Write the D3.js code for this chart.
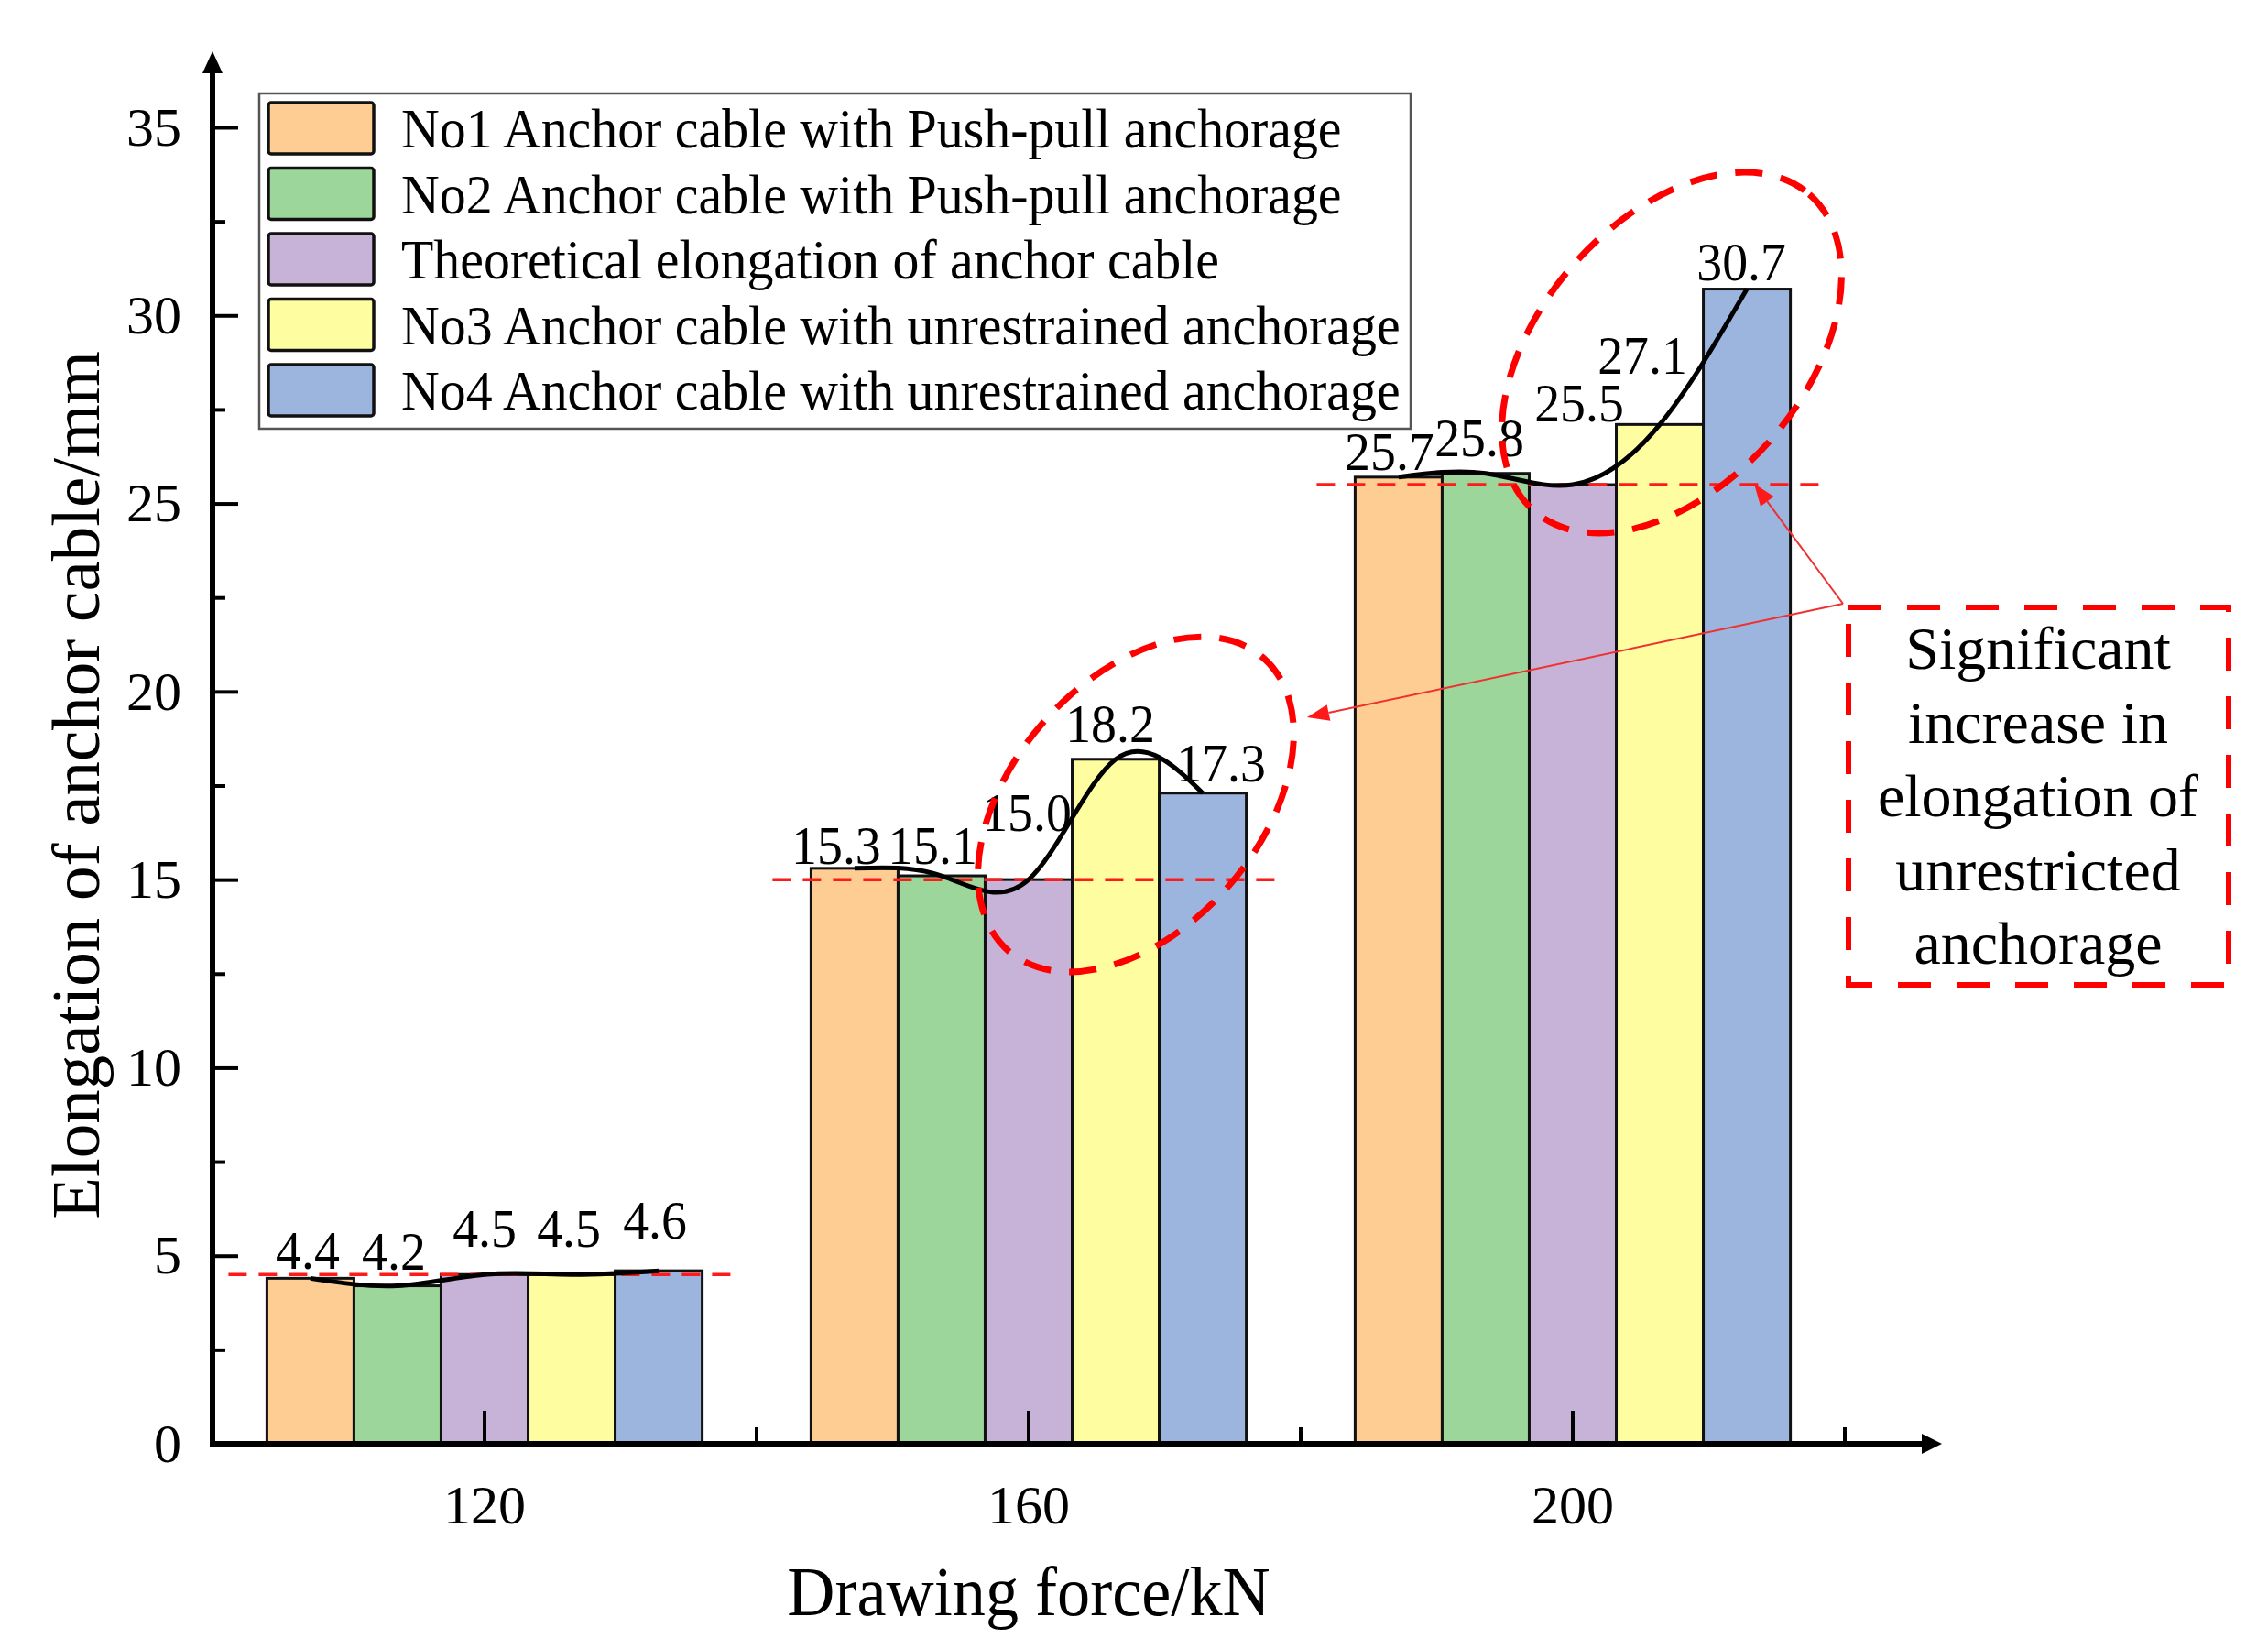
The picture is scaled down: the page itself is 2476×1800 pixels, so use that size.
<!DOCTYPE html>
<html><head><meta charset="utf-8">
<script src="https://cdn.jsdelivr.net/npm/d3@7/dist/d3.min.js"></script>
<style>
body{margin:0;background:#fff}
svg{display:block;background:#fff}
text{font-family:"Liberation Serif","Times New Roman",serif;fill:#000}
</style>
</head><body>
<svg id="chart" width="2476" height="1800"></svg>
<script>
// ---------------- data ----------------
const forces = ["120", "160", "200"];
const seriesNames = [
  "No1 Anchor cable with Push-pull anchorage",
  "No2 Anchor cable with Push-pull anchorage",
  "Theoretical elongation of anchor cable",
  "No3 Anchor cable with unrestrained anchorage",
  "No4 Anchor cable with unrestrained anchorage"
];
const no1Values    = [4.4, 15.3, 25.7];
const no2Values    = [4.2, 15.1, 25.8];
const theoryValues = [4.5, 15.0, 25.5];
const no3Values    = [4.5, 18.2, 27.1];
const no4Values    = [4.6, 17.3, 30.7];
const yTickValues  = [0, 5, 10, 15, 20, 25, 30, 35];
const yMinorValues = [2.5, 7.5, 12.5, 17.5, 22.5, 27.5, 32.5];
const xTitle = "Drawing force/kN";
const yTitle = "Elongation of anchor cable/mm";
const noteLines = ["Significant", "increase in", "elongation of", "unrestricted", "anchorage"];

// ---------------- style / layout ----------------
const colors = ["#FECD93", "#9DD69B", "#C6B3D7", "#FEFD9F", "#9CB5DF"];
// manual label placement (px lift above bar top, px horizontal shift) per group
const labelLift  = [[10, 18, 30, 30, 35], [5, 13, 53, 19, 13], [8, 19, 69, 55, 10]];
const labelShift = [[-3, -4, 0, -3, -4], [-20, -10, -2, -6, 20], [-10, -7, 7, -19, -6]];

const seriesValues = [no1Values, no2Values, theoryValues, no3Values, no4Values];
const keys = d3.range(seriesNames.length);

const svg = d3.select("#chart");
const X0 = 232, Y0 = 1576;

const x = d3.scaleBand().domain(forces).range([X0, 2014]).paddingInner(0).paddingOuter(0);
const inner = d3.scaleBand().domain(keys)
  .range([x.bandwidth() * 0.1, x.bandwidth() * 0.9]).padding(0);
const y = d3.scaleLinear().domain([0, 35]).range([Y0, 139]);

function squeeze(sel, f) {
  sel.each(function () {
    const w = this.getComputedTextLength();
    this.setAttribute("textLength", w * f);
    this.setAttribute("lengthAdjust", "spacingAndGlyphs");
  });
}

// ---------------- bars ----------------
const groups = svg.append("g").selectAll("g").data(forces).join("g")
  .attr("transform", d => `translate(${x(d)},0)`);
groups.selectAll("rect").data((f, gi) => keys.map(k => ({k, v: seriesValues[k][gi]})))
  .join("rect")
  .attr("x", d => inner(d.k))
  .attr("width", inner.bandwidth())
  .attr("y", d => y(d.v))
  .attr("height", d => Y0 - y(d.v))
  .attr("fill", d => colors[d.k])
  .attr("stroke", "#111").attr("stroke-width", 3);

// ---------------- axes ----------------
const yAxisG = svg.append("g").attr("transform", `translate(${X0},0)`)
  .call(d3.axisLeft(y).tickValues(yTickValues).tickSizeInner(-28).tickSizeOuter(0).tickPadding(34));
yAxisG.select(".domain").remove();
yAxisG.selectAll(".tick line").attr("stroke", "#000").attr("stroke-width", 4);
yAxisG.selectAll(".tick text").style("font-size", "60px").attr("fill", "#222");
svg.append("g").attr("transform", `translate(${X0},0)`)
  .call(d3.axisLeft(y).tickValues(yMinorValues).tickSizeInner(-14).tickSizeOuter(0).tickFormat(""))
  .call(g => g.select(".domain").remove())
  .selectAll(".tick line").attr("stroke", "#000").attr("stroke-width", 4);

const xAxisG = svg.append("g").attr("transform", `translate(0,${Y0})`)
  .call(d3.axisBottom(x).tickSizeInner(-36).tickSizeOuter(0).tickPadding(44));
xAxisG.select(".domain").remove();
xAxisG.selectAll(".tick line").attr("stroke", "#000").attr("stroke-width", 4);
xAxisG.selectAll(".tick text").style("font-size", "60px").attr("fill", "#222");
// minor x ticks at band boundaries
svg.append("g").selectAll("line").data(forces).join("line")
  .attr("x1", d => x(d) + x.bandwidth()).attr("x2", d => x(d) + x.bandwidth())
  .attr("y1", Y0).attr("y2", Y0 - 18)
  .attr("stroke", "#000").attr("stroke-width", 4);

// axis lines with arrows
svg.append("line").attr("x1", X0).attr("x2", X0).attr("y1", Y0 + 3).attr("y2", 76)
  .attr("stroke", "#000").attr("stroke-width", 6);
svg.append("path").attr("d", `M${X0},56 L${X0 - 11},80 L${X0 + 11},80 Z`).attr("fill", "#000");
svg.append("line").attr("x1", X0 - 3).attr("x2", 2102).attr("y1", Y0).attr("y2", Y0)
  .attr("stroke", "#000").attr("stroke-width", 6);
svg.append("path").attr("d", `M2120,${Y0} L2098,${Y0 - 11} L2098,${Y0 + 11} Z`).attr("fill", "#000");

// axis titles
const yt = svg.append("text").attr("transform", "translate(108,857) rotate(-90)")
  .attr("text-anchor", "middle").style("font-size", "75px").text(yTitle);
const xt = svg.append("text").attr("x", 1123).attr("y", 1763)
  .attr("text-anchor", "middle").style("font-size", "76px").text(xTitle);
squeeze(xt, 0.95);

// ---------------- theoretical dashed lines ----------------
svg.append("g").selectAll("line").data(forces).join("line")
  .attr("x1", d => x(d) + inner(0) - 42)
  .attr("x2", d => x(d) + inner(4) + inner.bandwidth() + 42)
  .attr("y1", (d, i) => y(theoryValues[i])).attr("y2", (d, i) => y(theoryValues[i]))
  .attr("stroke", "#ff1a1a").attr("stroke-width", 3.5).attr("stroke-dasharray", "20 13");

// ---------------- smooth curves ----------------
const line = d3.line().curve(d3.curveNatural).x(d => d[0]).y(d => d[1]);
svg.append("g").selectAll("path").data(forces).join("path")
  .attr("d", (f, gi) => line(keys.map(k => [x(f) + inner(k) + inner.bandwidth() / 2, y(seriesValues[k][gi])])))
  .attr("fill", "none").attr("stroke", "#000").attr("stroke-width", 5);

// ---------------- value labels ----------------
const labG = svg.append("g");
forces.forEach((f, gi) => {
  keys.forEach(k => {
    const v = seriesValues[k][gi];
    const t = labG.append("text")
      .attr("x", x(f) + inner(k) + inner.bandwidth() / 2 + labelShift[gi][k])
      .attr("y", y(v) - labelLift[gi][k])
      .attr("text-anchor", "middle").style("font-size", "60px")
      .text(d3.format(".1f")(v));
    squeeze(t, 0.93);
  });
});

// ---------------- legend ----------------
const leg = svg.append("g");
leg.append("rect").attr("x", 283).attr("y", 102).attr("width", 1257).attr("height", 366)
  .attr("fill", "#fff").attr("stroke", "#555").attr("stroke-width", 2.5);
const items = leg.selectAll("g.item").data(keys).join("g").attr("class", "item")
  .attr("transform", k => `translate(293,${112 + k * 71.5})`);
items.append("rect").attr("width", 115).attr("height", 56).attr("rx", 3)
  .attr("fill", k => colors[k]).attr("stroke", "#111").attr("stroke-width", 3.5);
const legTexts = items.append("text").attr("x", 145).attr("y", 28).attr("dy", "0.34em")
  .style("font-size", "62px").text(k => seriesNames[k]);
squeeze(legTexts, 0.933);

// ---------------- annotations ----------------
const ann = svg.append("g");
[[1240, 878, 212, 135], [1825, 385, 229, 144]].forEach(e => {
  ann.append("ellipse").attr("cx", e[0]).attr("cy", e[1]).attr("rx", e[2]).attr("ry", e[3])
    .attr("transform", `rotate(-49,${e[0]},${e[1]})`)
    .attr("fill", "none").attr("stroke", "#ff0000").attr("stroke-width", 7)
    .attr("stroke-dasharray", "30 20");
});
ann.append("rect").attr("x", 2018).attr("y", 663).attr("width", 415).attr("height", 412)
  .attr("fill", "none").attr("stroke", "#ff0000").attr("stroke-width", 6)
  .attr("stroke-dasharray", "36 28");
const nt = ann.append("g").selectAll("text").data(noteLines).join("text")
  .attr("x", 2225).attr("y", (d, i) => 730 + i * 80.5)
  .attr("text-anchor", "middle").style("font-size", "66px").text(d => d);

// arrows from note box corner
const origin = [2012, 659];
[[1427, 783], [1915, 528]].forEach(tip => {
  const dx = tip[0] - origin[0], dy = tip[1] - origin[1];
  const L = Math.hypot(dx, dy), ux = dx / L, uy = dy / L;
  const hl = 24, hw = 9;
  const bx = tip[0] - ux * hl, by = tip[1] - uy * hl;
  ann.append("line").attr("x1", origin[0]).attr("y1", origin[1]).attr("x2", bx).attr("y2", by)
    .attr("stroke", "#f03030").attr("stroke-width", 2);
  ann.append("path")
    .attr("d", `M${tip[0]},${tip[1]} L${bx - uy * hw},${by + ux * hw} L${bx + uy * hw},${by - ux * hw} Z`)
    .attr("fill", "#ff1a1a");
});
</script>
</body></html>
